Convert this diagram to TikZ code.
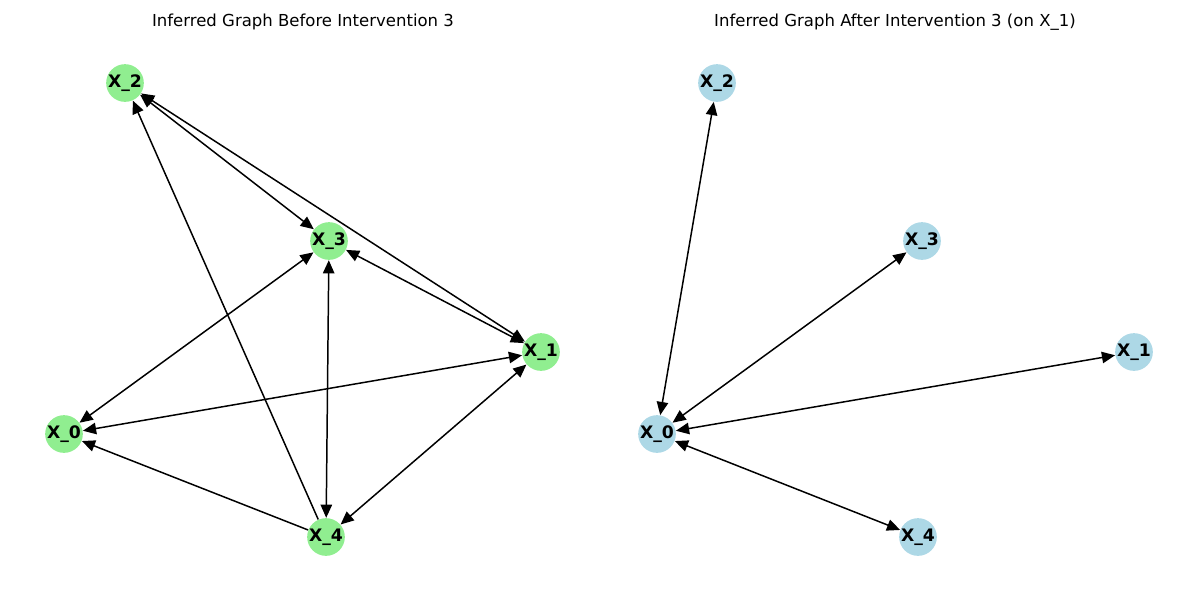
\documentclass[tikz,border=0pt]{standalone}
\usepackage{fontspec}
\setmainfont{DejaVu Sans}
\usetikzlibrary{arrows.meta}
\definecolor{lightgreen}{HTML}{90EE90}
\definecolor{lightblue}{HTML}{ADD8E6}

\begin{document}
\begin{tikzpicture}[x=0.02cm,y=-0.02cm,
      varnode/.style={circle,inner sep=0pt,minimum size=0.64cm,font=\fontsize{9.8}{11}\selectfont\bfseries},
      plottitle/.style={font=\fontsize{9.4}{11}\selectfont},
      >={Triangle[length=7.5pt,width=6.5pt]}]
    \useasboundingbox (0,0) rectangle (1200,600);

    % Titles
    \node[plottitle] (titlebefore) at (303,22) {Inferred Graph Before Intervention 3};
    \node[plottitle] (titleafter)  at (895,22) {Inferred Graph After Intervention 3 (on X\_1)};

    % Blocks
    \node[varnode,fill=lightgreen] (bx0) at (64,434)  {X\_0};
    \node[varnode,fill=lightgreen] (bx1) at (541,352) {X\_1};
    \node[varnode,fill=lightgreen] (bx2) at (125,83)  {X\_2};
    \node[varnode,fill=lightgreen] (bx3) at (329,241) {X\_3};
    \node[varnode,fill=lightgreen] (bx4) at (326,537) {X\_4};

    \node[varnode,fill=lightblue]  (ax0) at (657,434)  {X\_0};
    \node[varnode,fill=lightblue]  (ax1) at (1134,352) {X\_1};
    \node[varnode,fill=lightblue]  (ax2) at (717,83)   {X\_2};
    \node[varnode,fill=lightblue]  (ax3) at (922,241)  {X\_3};
    \node[varnode,fill=lightblue]  (ax4) at (918,537)  {X\_4};

    % Arrows
    \draw[<->,line width=0.85pt] (bx2) edge (bx3) (bx2) edge (bx1) (bx3) edge (bx1)
                                 (bx3) edge (bx4) (bx3) edge (bx0) (bx0) edge (bx1)
                                 (bx4) edge (bx1);
    \draw[ ->,line width=0.85pt] (bx4) edge (bx2) (bx4) edge (bx0);
    \draw[<->,line width=0.85pt] (ax0) edge (ax2) (ax0) edge (ax3) (ax0) edge (ax1)
                                 (ax0) edge (ax4);

\end{tikzpicture}
\end{document}
